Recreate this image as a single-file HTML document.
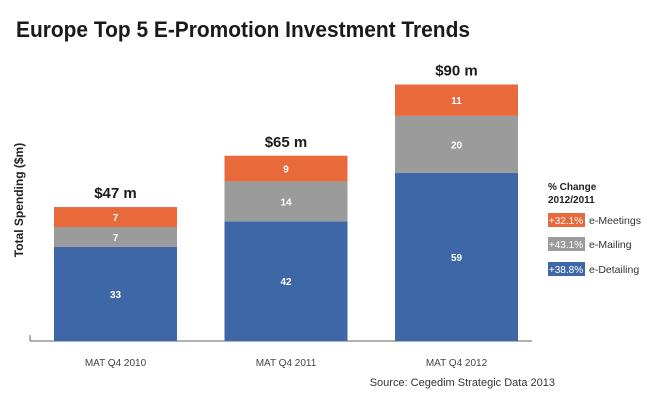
<!DOCTYPE html>
<html><head><meta charset="utf-8"><style>
body{margin:0;background:#fff;font-family:"Liberation Sans",sans-serif;}
svg text{font-family:"Liberation Sans",sans-serif;}
</style></head><body>
<svg width="658" height="409">
<text x="16" y="37" font-size="22" font-weight="bold" fill="#1a1a1a" textLength="454" lengthAdjust="spacingAndGlyphs">Europe Top 5 E-Promotion Investment Trends</text>
<text transform="translate(23,200) rotate(-90)" text-anchor="middle" font-size="12" font-weight="bold" fill="#222">Total Spending ($m)</text>
<line x1="30" y1="341" x2="532" y2="341" stroke="#666" stroke-width="1"/>
<line x1="30" y1="335" x2="30" y2="341" stroke="#666"/>
<g id="bars"></g>
<text x="555" y="386" text-anchor="end" font-size="11" fill="#333">Source: Cegedim Strategic Data 2013</text>
<g>
<text x="548" y="190" font-size="10" font-weight="bold" fill="#222">% Change</text>
<text x="548" y="203" font-size="10" font-weight="bold" fill="#222">2012/2011</text>
<rect x="548" y="213" width="37" height="14" fill="#e8693a"/>
<text x="566" y="224" text-anchor="middle" font-size="10" fill="#fff">+32.1%</text>
<text x="589" y="224" font-size="10.5" fill="#333">e-Meetings</text>
<rect x="548" y="237" width="37" height="14" fill="#9b9b9b"/>
<text x="566" y="248" text-anchor="middle" font-size="10" fill="#fff">+43.1%</text>
<text x="589" y="248" font-size="10.5" fill="#333">e-Mailing</text>
<rect x="548" y="262" width="37" height="14" fill="#3e67a8"/>
<text x="566" y="273" text-anchor="middle" font-size="10" fill="#fff">+38.8%</text>
<text x="589" y="273" font-size="10.5" fill="#333">e-Detailing</text>
</g>
</svg>
<script>
const categories = ["MAT Q4 2010","MAT Q4 2011","MAT Q4 2012"];
const detailing = [33,42,59];
const mailing = [7,14,20];
const meetings = [7,9,11];
const totalLabels = ["$47 m","$65 m","$90 m"];
const NS="http://www.w3.org/2000/svg";
const g=document.getElementById('bars');
const base=341, scale=2.85, x0=54, step=170.5, bw=123;
const y=v=>base-v*scale;
const xs=i=>x0+i*step;
function mk(tag,attrs){const e=document.createElementNS(NS,tag);for(const k in attrs)e.setAttribute(k,attrs[k]);g.appendChild(e);return e;}
const series=[[detailing,"#3e67a8","detailing"],[mailing,"#9b9b9b","mailing"],[meetings,"#e8693a","meetings"]];
categories.forEach((c,i)=>{
  let cum=0;
  series.forEach(([arr,col,nm])=>{
    const v=arr[i];
    const r=mk('rect',{x:xs(i),y:y(cum+v),width:bw,height:v*scale,fill:col});
    
    
    const t=mk('text',{x:xs(i)+bw/2,y:y(cum+v/2)+4,'text-anchor':'middle','font-size':10,'font-weight':'bold',fill:'#fff'});
    t.textContent=v;
    
    
    cum+=v;
  });
  const tl=mk('text',{x:xs(i)+bw/2,y:y(cum)-9,'text-anchor':'middle','font-size':15,'font-weight':'bold',fill:'#1a1a1a'});
  tl.textContent=totalLabels[i];
  
  
  const cl=mk('text',{x:xs(i)+bw/2,y:366,'text-anchor':'middle','font-size':10,fill:'#444'});
  cl.textContent=c;
  
  
});
</script>
</body></html>
